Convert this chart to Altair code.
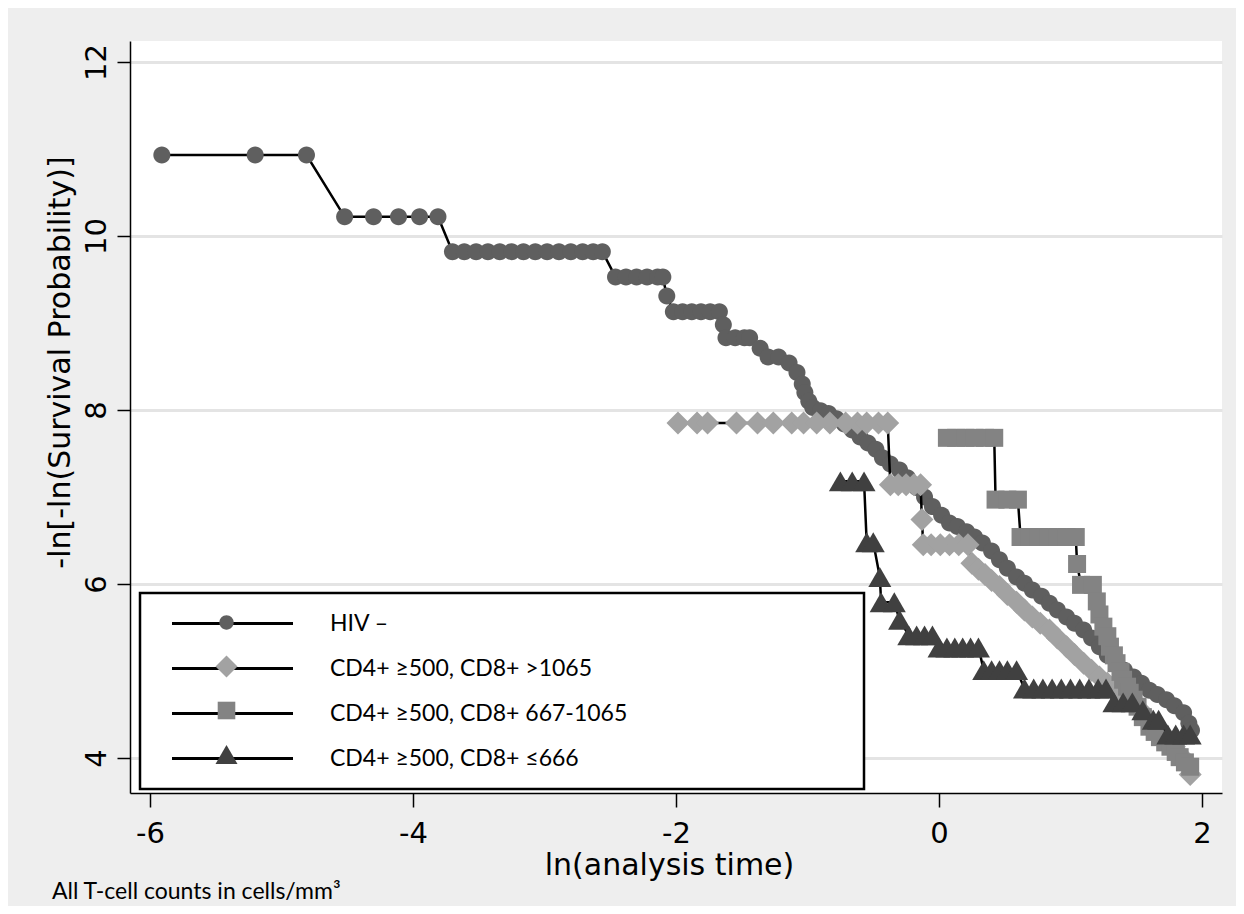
import altair as alt
import pandas as pd

# ---------------- data ----------------
series_names = [
    "HIV –",
    "CD4+ ≥500, CD8+ >1065",
    "CD4+ ≥500, CD8+ 667-1065",
    "CD4+ ≥500, CD8+ ≤666",
]

hiv_x = [-5.91, -5.20, -4.81,
         -4.52, -4.30, -4.11, -3.95, -3.81,
         -3.70, -3.61, -3.52, -3.43, -3.34, -3.25, -3.16, -3.07, -2.98, -2.89, -2.80, -2.71, -2.63, -2.56,
         -2.46, -2.38, -2.30, -2.22, -2.14, -2.10,
         -2.07,
         -2.02, -1.95, -1.88, -1.81, -1.74, -1.67,
         -1.64,
         -1.62, -1.55, -1.48, -1.44,
         -1.36, -1.30, -1.22, -1.14, -1.08, -1.04, -1.02, -0.99, -0.96, -0.90, -0.84, -0.78, -0.72, -0.66,
         -0.60, -0.54, -0.48, -0.43, -0.37, -0.30, -0.24, -0.17, -0.11, -0.05, 0.02, 0.08, 0.14, 0.21, 0.27,
         0.33, 0.40, 0.46, 0.52, 0.59, 0.65, 0.71, 0.78, 0.84, 0.90, 0.97, 1.03, 1.10, 1.16, 1.22, 1.28,
         1.35, 1.41, 1.48, 1.54, 1.60, 1.66, 1.73, 1.79, 1.86, 1.90, 1.92]
hiv_y = [10.93, 10.93, 10.93,
         10.22, 10.22, 10.22, 10.22, 10.22,
         9.82, 9.82, 9.82, 9.82, 9.82, 9.82, 9.82, 9.82, 9.82, 9.82, 9.82, 9.82, 9.82, 9.82,
         9.53, 9.53, 9.53, 9.53, 9.53, 9.53,
         9.31,
         9.13, 9.13, 9.13, 9.13, 9.13, 9.13,
         8.98,
         8.83, 8.83, 8.83, 8.83,
         8.71, 8.61, 8.61, 8.54, 8.43, 8.30, 8.20, 8.10, 8.03, 7.99, 7.96, 7.90, 7.84, 7.77,
         7.69, 7.62, 7.55, 7.45, 7.38, 7.31, 7.22, 7.11, 7.00, 6.89, 6.79, 6.70, 6.66, 6.60, 6.54,
         6.47, 6.38, 6.28, 6.18, 6.08, 6.01, 5.93, 5.86, 5.78, 5.70, 5.62, 5.55, 5.47, 5.38, 5.28, 5.18,
         5.09, 5.01, 4.93, 4.86, 4.78, 4.73, 4.67, 4.60, 4.52, 4.40, 4.32]

hi_x = [-1.985, -1.84, -1.76, -1.54, -1.38, -1.26, -1.12, -1.03, -0.93, -0.83, -0.71, -0.62, -0.55, -0.46, -0.39,
        -0.37, -0.31, -0.25, -0.19, -0.14,
        -0.13,
        -0.12, -0.06, 0.01, 0.08, 0.15, 0.22,
        0.25, 0.30, 0.35, 0.40, 0.46, 0.52, 0.59, 0.65, 0.71, 0.77, 0.84, 0.90, 0.97, 1.03, 1.10, 1.16,
        1.22, 1.28, 1.35, 1.41, 1.48, 1.54, 1.60, 1.66, 1.73, 1.79, 1.84, 1.88, 1.91]
hi_y = [7.85, 7.85, 7.85, 7.85, 7.85, 7.85, 7.85, 7.85, 7.85, 7.85, 7.85, 7.85, 7.85, 7.85, 7.85,
        7.14, 7.14, 7.14, 7.14, 7.14,
        6.74,
        6.45, 6.45, 6.45, 6.45, 6.45, 6.45,
        6.24, 6.17, 6.11, 6.04, 5.97, 5.88, 5.79, 5.70, 5.62, 5.55, 5.47, 5.38, 5.28, 5.19, 5.09, 5.01,
        4.93, 4.86, 4.78, 4.71, 4.63, 4.54, 4.44, 4.34, 4.24, 4.13, 4.03, 3.93, 3.81]

mid_x = [0.06, 0.13, 0.20, 0.27, 0.35, 0.42,
         0.43, 0.52, 0.60,
         0.62, 0.69, 0.76, 0.83, 0.90, 0.97, 1.04,
         1.05,
         1.08, 1.17,
         1.20, 1.22, 1.25, 1.28, 1.30, 1.33, 1.35, 1.38, 1.40, 1.43, 1.45, 1.48, 1.51, 1.55, 1.60,
         1.64, 1.68, 1.72, 1.76, 1.80, 1.83, 1.87, 1.91]
mid_y = [7.68, 7.68, 7.68, 7.68, 7.68, 7.68,
         6.97, 6.97, 6.97,
         6.54, 6.54, 6.54, 6.54, 6.54, 6.54, 6.54,
         6.23,
         5.99, 5.99,
         5.80, 5.65, 5.51, 5.40, 5.28, 5.18, 5.09, 4.99, 4.90, 4.82, 4.75, 4.67, 4.59, 4.47, 4.36,
         4.30, 4.24, 4.18, 4.13, 4.07, 4.01, 3.95, 3.90]

lo_x = [-0.75, -0.66, -0.57,
        -0.55, -0.50,
        -0.45,
        -0.44, -0.34,
        -0.30,
        -0.23, -0.17, -0.11, -0.05,
        0.00, 0.06, 0.12, 0.18, 0.24, 0.30,
        0.34, 0.40, 0.46, 0.52, 0.59,
        0.65, 0.72, 0.79, 0.86, 0.93, 1.00, 1.07, 1.14, 1.21, 1.27,
        1.33, 1.40, 1.47,
        1.55,
        1.63, 1.67,
        1.74, 1.80, 1.86, 1.91]
lo_y = [7.18, 7.18, 7.18,
        6.48, 6.48,
        6.08,
        5.79, 5.79,
        5.59,
        5.41, 5.41, 5.41, 5.41,
        5.27, 5.27, 5.27, 5.27, 5.27, 5.27,
        5.01, 5.01, 5.01, 5.01, 5.01,
        4.80, 4.80, 4.80, 4.80, 4.80, 4.80, 4.80, 4.80, 4.80, 4.80,
        4.64, 4.64, 4.64,
        4.55,
        4.44, 4.44,
        4.27, 4.27, 4.27, 4.27]

x_ticks = [-6, -4, -2, 0, 2]
y_ticks = [4, 6, 8, 10, 12]

# ---------------- table ----------------
rows = []
for name, xs, ys in zip(series_names, [hiv_x, hi_x, mid_x, lo_x], [hiv_y, hi_y, mid_y, lo_y]):
    assert len(xs) == len(ys)
    for i, (xv, yv) in enumerate(zip(xs, ys)):
        rows.append({"series": name, "t": xv, "v": yv, "i": i})
df = pd.DataFrame(rows)

# ---------------- styling ----------------
fills = ["#5f5f5f", "#a2a2a2", "#838383", "#404040"]
circle_path = "M0,-0.65A0.65,0.65 0 1,1 0,0.65A0.65,0.65 0 1,1 0,-0.65Z"
square_path = "M-0.8,-0.8H0.8V0.8H-0.8Z"
shapes = [circle_path, "diamond", square_path, "triangle-up"]
point_sizes = [684, 529, 506, 529]
# invisible trailing filler so the framed legend box is as wide as in the reference
pad = "\u00a0" * 37 + "\u200b"
line_domain = [n + pad for n in series_names]

AX_FONT = "DejaVu Sans"
LEG_FONT = "Lato"

xenc = alt.X(
    "t:Q",
    scale=alt.Scale(domain=[-6.152, 2.152], nice=False, zero=False),
    axis=alt.Axis(
        values=x_ticks, grid=False, title="ln(analysis time)",
        labelExpr="'' + datum.value", labelFont=AX_FONT, labelFontSize=29, labelColor="black",
        labelBaseline="alphabetic", labelPadding=35, labelFlush=False,
        tickSize=14, tickColor="black", tickWidth=1.5,
        domainColor="black", domainWidth=1.5,
        titleFont=AX_FONT, titleFontSize=30, titleFontWeight="normal", titleColor="black",
        titleX=539, titleY=81, titleBaseline="alphabetic", titleAlign="center",
    ),
)
yenc = alt.Y(
    "v:Q",
    scale=alt.Scale(domain=[3.598, 12.241], nice=False, zero=False),
    axis=alt.Axis(
        values=y_ticks, grid=True, gridColor="#e4e4e4", gridWidth=3,
        title="-ln[-ln(Survival Probability)]",
        labelExpr="'' + datum.value", labelFont=AX_FONT, labelFontSize=29, labelColor="black",
        labelAngle=270, labelAlign="center", labelBaseline="alphabetic", labelPadding=12,
        labelFlush=False,
        tickSize=13, tickColor="black", tickWidth=1.5,
        domainColor="black", domainWidth=1.5,
        titleFont=AX_FONT, titleFontSize=30, titleFontWeight="normal", titleColor="black",
        titleAngle=270, titleX=-70, titleY=321, titleBaseline="middle", titleAlign="center",
    ),
)

line_legend = alt.Legend(
    title=None, orient="none", legendX=10, legendY=552, padding=18, rowPadding=20,
    symbolType="M-5.5,0H5.5", symbolSize=484, symbolStrokeWidth=3, symbolOffset=62,
    labelOffset=85, labelFont=LEG_FONT, labelFontSize=23, labelColor="black", labelLimit=3000,
    strokeColor="black", fillColor="white", zindex=0,
)
marker_legend = alt.Legend(
    title=None, orient="none", legendX=10, legendY=552, padding=18, rowPadding=20,
    symbolSize=484, symbolOffset=57, symbolStrokeWidth=0,
    labelExpr="'\u200b'", labelOffset=85, labelFont=LEG_FONT, labelFontSize=23, labelOpacity=0,
    zindex=1,
)

base = alt.Chart(df)
layers = []
for k, name in enumerate(series_names):
    sub = base.transform_filter(alt.datum.series == name)
    line = sub.transform_calculate(
        lineseries="datum.series + '" + pad + "'"
    ).mark_line(strokeWidth=2.5).encode(
        x=xenc, y=yenc, order="i:Q",
        color=alt.Color("lineseries:N", scale=alt.Scale(domain=line_domain, range=["black"] * 4),
                        legend=line_legend),
    )
    pts = sub.mark_point(filled=True, opacity=1, strokeWidth=0, size=point_sizes[k]).encode(
        x=xenc, y=yenc,
        fill=alt.Fill("series:N", scale=alt.Scale(domain=series_names, range=fills), legend=marker_legend),
        shape=alt.Shape("series:N", scale=alt.Scale(domain=series_names, range=shapes), legend=marker_legend),
    )
    layers += [line, pts]

chart = alt.layer(*layers).properties(
    width=1092, height=752,
    background="#eeeeee",
    padding={"left": 122, "top": 33, "right": 14, "bottom": 113},
    autosize=alt.AutoSizeParams(type="none"),
    title=alt.TitleParams(
        text="All T-cell counts in cells/mm³", orient="bottom", anchor="start", frame="group",
        dx=-78, offset=19, font=LEG_FONT, fontSize=23, fontWeight="normal", color="black",
        baseline="alphabetic",
    ),
).configure_view(fill="white", strokeWidth=0).configure_legend(strokeWidth=2.5)

chart.save("out.html", embed_options={"renderer": "svg", "actions": False})
